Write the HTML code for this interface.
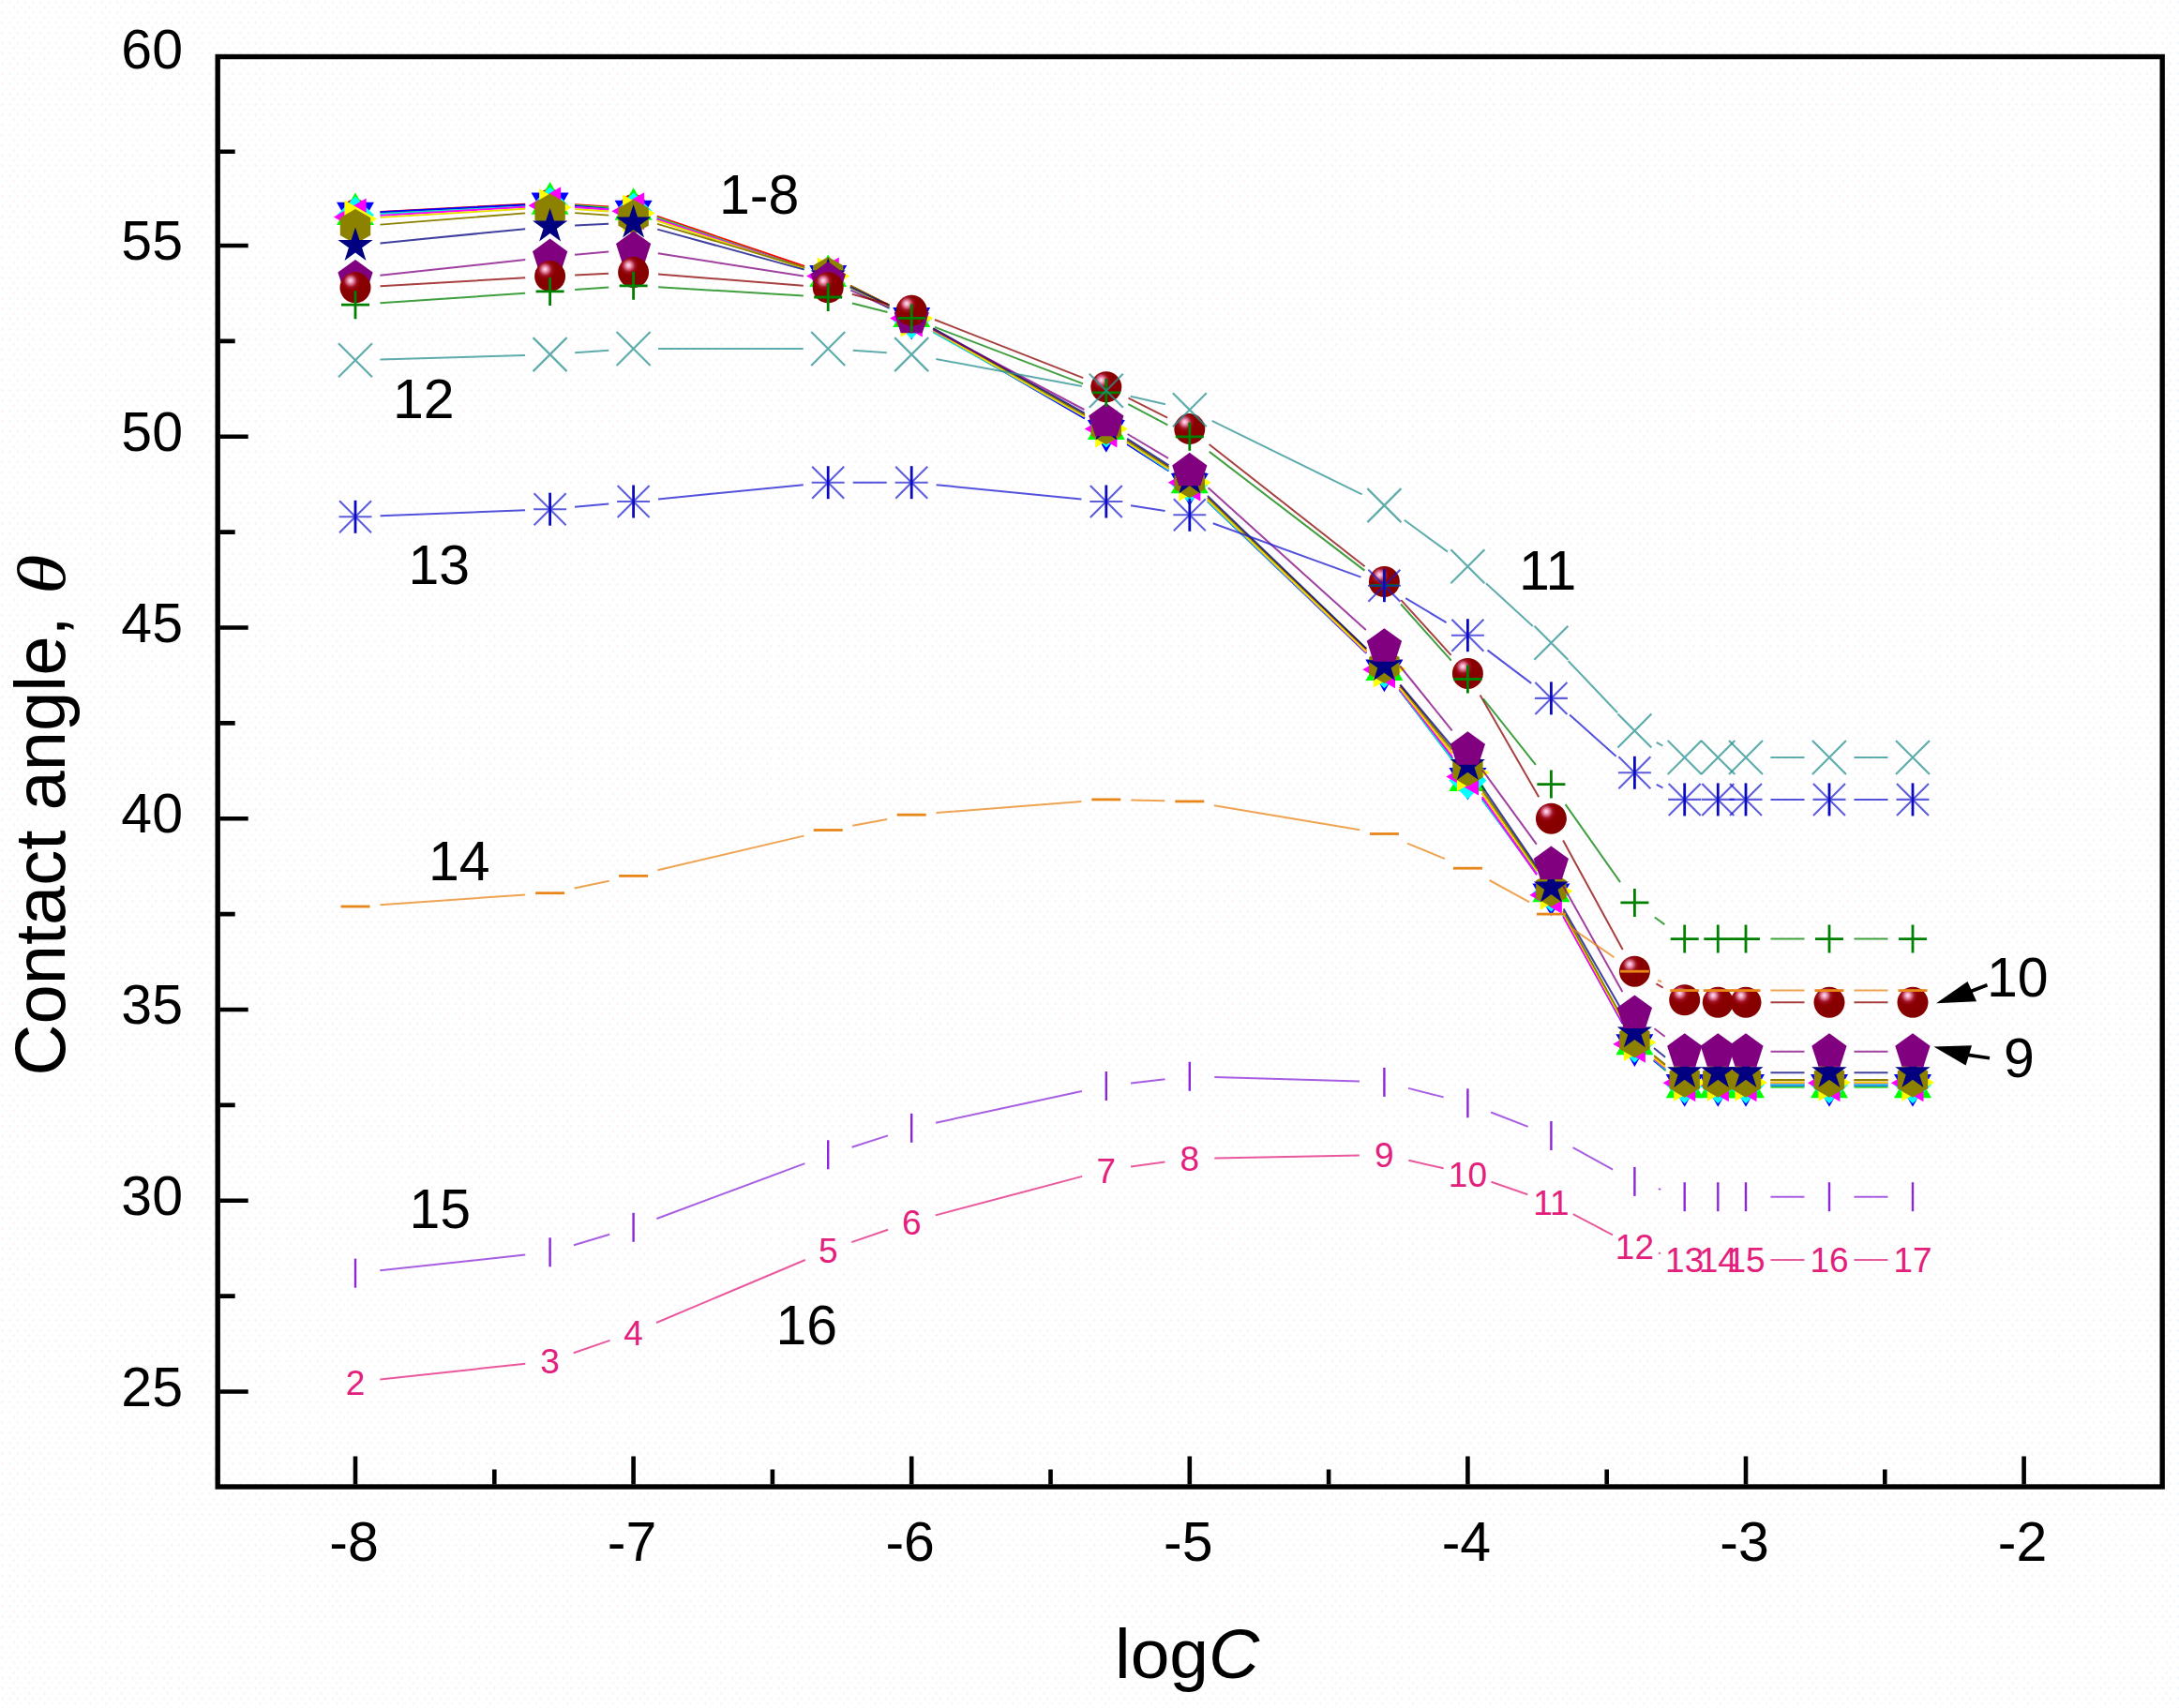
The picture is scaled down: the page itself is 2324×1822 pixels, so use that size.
<!DOCTYPE html>
<html><head><meta charset="utf-8"><title>Contact angle vs logC</title>
<style>
html,body{margin:0;padding:0;background:#fff;}
body{width:2324px;height:1822px;overflow:hidden;}
svg{display:block;font-family:"Liberation Sans",sans-serif;}
</style></head><body>
<svg width="2324" height="1822" viewBox="0 0 2324 1822">
<defs>
<radialGradient id="ball" cx="0.36" cy="0.30" r="0.62" fx="0.34" fy="0.27">
<stop offset="0" stop-color="#ffe6f4"/><stop offset="0.12" stop-color="#f0a0c0"/><stop offset="0.34" stop-color="#a01020"/><stop offset="0.5" stop-color="#8b0000"/><stop offset="1" stop-color="#850000"/>
</radialGradient>
<pattern id="dots" width="16.4" height="10.9" patternUnits="userSpaceOnUse">
<rect x="1" y="1" width="2.7" height="2.7" fill="#fcf4f8"/><rect x="9.2" y="1" width="2.7" height="2.7" fill="#f3f7fc"/>
<rect x="5.1" y="6.4" width="2.7" height="2.7" fill="#f9fdf6"/><rect x="13.3" y="6.4" width="2.7" height="2.7" fill="#fbf4f8"/>
</pattern>
</defs>
<rect width="2324" height="1822" fill="#ffffff"/>
<rect width="2324" height="1822" fill="url(#dots)"/>
<g id="series">
<g id="s1"><path d="M405.5 226.0L560.2 217.8M613.1 218.1L649.2 220.4M700.7 230.6L858.1 284.0M906.9 304.5L948.5 325.5M995.2 350.5L1156.8 442.5M1202.1 469.9L1246.5 498.3M1287.9 531.0L1457.3 693.9M1492.9 733.0L1548.9 803.6M1580.7 846.0L1639.1 929.0M1667.2 973.9L1730.5 1088.4M1764.4 1127.7L1775.7 1136.3M1888.5 1152.4L1924.5 1152.4M1977.5 1152.4L2013.5 1152.4" stroke="#ff0000" stroke-width="1.9" fill="none" opacity="1"/>
<circle cx="379.0" cy="227.4" r="15" fill="#ff0000"/>
<circle cx="586.6" cy="216.4" r="15" fill="#ff0000"/>
<circle cx="675.6" cy="222.1" r="15" fill="#ff0000"/>
<circle cx="883.2" cy="292.6" r="15" fill="#ff0000"/>
<circle cx="972.2" cy="337.4" r="15" fill="#ff0000"/>
<circle cx="1179.8" cy="455.6" r="15" fill="#ff0000"/>
<circle cx="1268.8" cy="512.6" r="15" fill="#ff0000"/>
<circle cx="1476.4" cy="712.3" r="15" fill="#ff0000"/>
<circle cx="1565.4" cy="824.3" r="15" fill="#ff0000"/>
<circle cx="1654.4" cy="950.7" r="15" fill="#ff0000"/>
<circle cx="1743.4" cy="1111.6" r="15" fill="#ff0000"/>
<circle cx="1796.7" cy="1152.4" r="15" fill="#ff0000"/>
<circle cx="1832.3" cy="1152.4" r="15" fill="#ff0000"/>
<circle cx="1862.0" cy="1152.4" r="15" fill="#ff0000"/>
<circle cx="1951.0" cy="1152.4" r="15" fill="#ff0000"/>
<circle cx="2040.0" cy="1152.4" r="15" fill="#ff0000"/>
</g>
<g id="s2"><path d="M405.5 227.1L560.2 218.6M613.1 219.0L649.2 221.5M700.7 231.9L858.2 286.0M907.1 306.1L948.3 325.9M995.1 350.7L1156.9 444.3M1202.1 471.9L1246.5 500.3M1287.9 533.0L1457.3 696.0M1492.4 735.5L1549.5 811.3M1581.3 853.7L1638.4 929.5M1667.1 973.9L1730.7 1090.4M1763.4 1131.0L1776.7 1142.4M1888.5 1159.7L1924.5 1159.7M1977.5 1159.7L2013.5 1159.7" stroke="#30d830" stroke-width="1.9" fill="none" opacity="1"/>
<polygon points="379.0,205.5 359.0,240.1 399.0,240.1" fill="#00ff00"/>
<polygon points="586.6,194.1 566.6,228.7 606.6,228.7" fill="#00ff00"/>
<polygon points="675.6,200.2 655.6,234.8 695.6,234.8" fill="#00ff00"/>
<polygon points="883.2,271.5 863.2,306.1 903.2,306.1" fill="#00ff00"/>
<polygon points="972.2,314.3 952.2,348.9 992.2,348.9" fill="#00ff00"/>
<polygon points="1179.8,434.5 1159.8,469.1 1199.8,469.1" fill="#00ff00"/>
<polygon points="1268.8,491.6 1248.8,526.2 1288.8,526.2" fill="#00ff00"/>
<polygon points="1476.4,691.2 1456.4,725.9 1496.4,725.9" fill="#00ff00"/>
<polygon points="1565.4,809.4 1545.4,844.0 1585.4,844.0" fill="#00ff00"/>
<polygon points="1654.4,927.6 1634.4,962.2 1674.4,962.2" fill="#00ff00"/>
<polygon points="1743.4,1090.6 1723.4,1125.2 1763.4,1125.2" fill="#00ff00"/>
<polygon points="1796.7,1136.6 1776.7,1171.3 1816.7,1171.3" fill="#00ff00"/>
<polygon points="1832.3,1136.6 1812.3,1171.3 1852.3,1171.3" fill="#00ff00"/>
<polygon points="1862.0,1136.6 1842.0,1171.3 1882.0,1171.3" fill="#00ff00"/>
<polygon points="1951.0,1136.6 1931.0,1171.3 1971.0,1171.3" fill="#00ff00"/>
<polygon points="2040.0,1136.6 2020.0,1171.3 2060.0,1171.3" fill="#00ff00"/>
</g>
<g id="s3"><path d="M405.5 226.1L560.2 218.5M613.0 219.6L649.2 222.9M700.7 233.7L858.1 286.2M906.9 306.5L948.5 327.5M995.1 352.7L1156.9 446.4M1202.1 473.9L1246.5 502.4M1288.0 535.0L1457.3 696.8M1492.6 736.1L1549.2 809.5M1580.9 852.0L1638.9 932.4M1667.2 977.1L1730.5 1091.7M1764.0 1131.5L1776.1 1141.1M1888.5 1157.7L1924.5 1157.7M1977.5 1157.7L2013.5 1157.7" stroke="#0000ff" stroke-width="1.9" fill="none" opacity="1"/>
<polygon points="379.0,250.5 359.0,215.8 399.0,215.8" fill="#0000ff"/>
<polygon points="586.6,240.3 566.6,205.6 606.6,205.6" fill="#0000ff"/>
<polygon points="675.6,248.4 655.6,213.8 695.6,213.8" fill="#0000ff"/>
<polygon points="883.2,317.7 863.2,283.0 903.2,283.0" fill="#0000ff"/>
<polygon points="972.2,362.5 952.2,327.9 992.2,327.9" fill="#0000ff"/>
<polygon points="1179.8,482.7 1159.8,448.1 1199.8,448.1" fill="#0000ff"/>
<polygon points="1268.8,539.8 1248.8,505.1 1288.8,505.1" fill="#0000ff"/>
<polygon points="1476.4,738.2 1456.4,703.6 1496.4,703.6" fill="#0000ff"/>
<polygon points="1565.4,853.6 1545.4,818.9 1585.4,818.9" fill="#0000ff"/>
<polygon points="1654.4,977.0 1634.4,942.4 1674.4,942.4" fill="#0000ff"/>
<polygon points="1743.4,1138.0 1723.4,1103.3 1763.4,1103.3" fill="#0000ff"/>
<polygon points="1796.7,1180.8 1776.7,1146.1 1816.7,1146.1" fill="#0000ff"/>
<polygon points="1832.3,1180.8 1812.3,1146.1 1852.3,1146.1" fill="#0000ff"/>
<polygon points="1862.0,1180.8 1842.0,1146.1 1882.0,1146.1" fill="#0000ff"/>
<polygon points="1951.0,1180.8 1931.0,1146.1 1971.0,1146.1" fill="#0000ff"/>
<polygon points="2040.0,1180.8 2020.0,1146.1 2060.0,1146.1" fill="#0000ff"/>
</g>
<g id="s4"><path d="M405.5 228.1L560.2 220.5M613.1 221.0L649.2 223.5M700.7 233.7L858.1 286.2M906.7 306.9L948.8 329.1M995.3 354.4L1156.7 444.7M1201.9 472.3L1246.7 502.0M1288.0 535.0L1457.2 696.1M1492.4 735.5L1549.5 811.3M1581.2 853.8L1638.6 931.4M1667.2 975.9L1730.5 1090.5M1763.9 1130.4L1776.2 1140.5M1888.5 1157.3L1924.5 1157.3M1977.5 1157.3L2013.5 1157.3" stroke="#10d8d8" stroke-width="1.9" fill="none" opacity="1"/>
<polygon points="379.0,209.4 399.0,229.4 379.0,249.4 359.0,229.4" fill="#00ffff"/>
<polygon points="586.6,199.2 606.6,219.2 586.6,239.2 566.6,219.2" fill="#00ffff"/>
<polygon points="675.6,205.3 695.6,225.3 675.6,245.3 655.6,225.3" fill="#00ffff"/>
<polygon points="883.2,274.6 903.2,294.6 883.2,314.6 863.2,294.6" fill="#00ffff"/>
<polygon points="972.2,321.5 992.2,341.5 972.2,361.5 952.2,341.5" fill="#00ffff"/>
<polygon points="1179.8,437.6 1199.8,457.6 1179.8,477.6 1159.8,457.6" fill="#00ffff"/>
<polygon points="1268.8,496.7 1288.8,516.7 1268.8,536.7 1248.8,516.7" fill="#00ffff"/>
<polygon points="1476.4,694.3 1496.4,714.3 1476.4,734.3 1456.4,714.3" fill="#00ffff"/>
<polygon points="1565.4,812.5 1585.4,832.5 1565.4,852.5 1545.4,832.5" fill="#00ffff"/>
<polygon points="1654.4,932.7 1674.4,952.7 1654.4,972.7 1634.4,952.7" fill="#00ffff"/>
<polygon points="1743.4,1093.7 1763.4,1113.7 1743.4,1133.7 1723.4,1113.7" fill="#00ffff"/>
<polygon points="1796.7,1137.3 1816.7,1157.3 1796.7,1177.3 1776.7,1157.3" fill="#00ffff"/>
<polygon points="1832.3,1137.3 1852.3,1157.3 1832.3,1177.3 1812.3,1157.3" fill="#00ffff"/>
<polygon points="1862.0,1137.3 1882.0,1157.3 1862.0,1177.3 1842.0,1157.3" fill="#00ffff"/>
<polygon points="1951.0,1137.3 1971.0,1157.3 1951.0,1177.3 1931.0,1157.3" fill="#00ffff"/>
<polygon points="2040.0,1137.3 2060.0,1157.3 2040.0,1177.3 2020.0,1157.3" fill="#00ffff"/>
</g>
<g id="s5"><path d="M405.5 229.9L560.2 220.8M613.1 221.0L649.2 223.5M700.7 233.7L858.1 286.2M906.9 306.5L948.5 327.5M995.2 352.5L1156.8 444.5M1202.1 471.9L1246.5 500.3M1287.9 533.0L1457.3 696.0M1492.7 735.2L1549.1 807.5M1580.7 850.1L1639.1 933.1M1667.3 977.9L1730.4 1090.6M1764.3 1130.0L1775.8 1139.0M1888.5 1155.2L1924.5 1155.2M1977.5 1155.2L2013.5 1155.2" stroke="#ff00ff" stroke-width="1.9" fill="none" opacity="1"/>
<polygon points="355.9,231.4 390.6,211.4 390.6,251.4" fill="#ff00ff"/>
<polygon points="563.5,219.2 598.2,199.2 598.2,239.2" fill="#ff00ff"/>
<polygon points="652.5,225.3 687.1,205.3 687.1,245.3" fill="#ff00ff"/>
<polygon points="860.1,294.6 894.8,274.6 894.8,314.6" fill="#ff00ff"/>
<polygon points="949.1,339.4 983.8,319.4 983.8,359.4" fill="#ff00ff"/>
<polygon points="1156.7,457.6 1191.4,437.6 1191.4,477.6" fill="#ff00ff"/>
<polygon points="1245.7,514.7 1280.4,494.7 1280.4,534.7" fill="#ff00ff"/>
<polygon points="1453.3,714.3 1488.0,694.3 1488.0,734.3" fill="#ff00ff"/>
<polygon points="1542.3,828.4 1577.0,808.4 1577.0,848.4" fill="#ff00ff"/>
<polygon points="1631.3,954.8 1665.9,934.8 1665.9,974.8" fill="#ff00ff"/>
<polygon points="1720.3,1113.7 1754.9,1093.7 1754.9,1133.7" fill="#ff00ff"/>
<polygon points="1773.6,1155.2 1808.3,1135.2 1808.3,1175.2" fill="#ff00ff"/>
<polygon points="1809.2,1155.2 1843.9,1135.2 1843.9,1175.2" fill="#ff00ff"/>
<polygon points="1838.9,1155.2 1873.5,1135.2 1873.5,1175.2" fill="#ff00ff"/>
<polygon points="1927.9,1155.2 1962.5,1135.2 1962.5,1175.2" fill="#ff00ff"/>
<polygon points="2016.9,1155.2 2051.5,1135.2 2051.5,1175.2" fill="#ff00ff"/>
</g>
<g id="s6"><path d="M405.5 231.9L560.2 222.8M613.1 223.1L649.2 225.5M700.8 235.5L858.0 286.4M906.9 306.5L948.5 327.5M995.2 352.5L1156.8 444.5M1202.1 471.9L1246.5 500.3M1287.9 533.0L1457.3 695.2M1493.0 734.2L1548.8 803.7M1580.7 846.0L1639.1 929.0M1667.2 973.9L1730.6 1088.8M1764.0 1128.6L1776.1 1138.3M1888.5 1154.8L1924.5 1154.8M1977.5 1154.8L2013.5 1154.8" stroke="#e8e000" stroke-width="1.9" fill="none" opacity="1"/>
<polygon points="402.1,233.5 367.4,213.5 367.4,253.5" fill="#ffff00"/>
<polygon points="609.7,221.2 575.1,201.2 575.1,241.2" fill="#ffff00"/>
<polygon points="698.7,227.4 664.1,207.4 664.1,247.4" fill="#ffff00"/>
<polygon points="906.3,294.6 871.7,274.6 871.7,314.6" fill="#ffff00"/>
<polygon points="995.3,339.4 960.7,319.4 960.7,359.4" fill="#ffff00"/>
<polygon points="1202.9,457.6 1168.3,437.6 1168.3,477.6" fill="#ffff00"/>
<polygon points="1291.9,514.7 1257.3,494.7 1257.3,534.7" fill="#ffff00"/>
<polygon points="1499.5,713.5 1464.9,693.5 1464.9,733.5" fill="#ffff00"/>
<polygon points="1588.5,824.3 1553.9,804.3 1553.9,844.3" fill="#ffff00"/>
<polygon points="1677.5,950.7 1642.8,930.7 1642.8,970.7" fill="#ffff00"/>
<polygon points="1766.5,1112.0 1731.8,1092.0 1731.8,1132.0" fill="#ffff00"/>
<polygon points="1819.8,1154.8 1785.2,1134.8 1785.2,1174.8" fill="#ffff00"/>
<polygon points="1855.4,1154.8 1820.8,1134.8 1820.8,1174.8" fill="#ffff00"/>
<polygon points="1885.1,1154.8 1850.5,1134.8 1850.5,1174.8" fill="#ffff00"/>
<polygon points="1974.1,1154.8 1939.4,1134.8 1939.4,1174.8" fill="#ffff00"/>
<polygon points="2063.1,1154.8 2028.4,1134.8 2028.4,1174.8" fill="#ffff00"/>
</g>
<g id="s7"><path d="M405.4 239.6L560.2 227.4M613.1 227.1L649.2 229.6M701.0 238.9L857.8 285.1M906.9 304.5L948.5 325.5M995.2 350.5L1156.8 442.5M1202.1 469.9L1246.5 498.3M1288.0 530.9L1457.2 692.0M1493.1 730.9L1548.7 799.7M1580.5 842.1L1639.3 926.9M1667.2 971.8L1730.5 1086.4M1764.1 1126.1L1776.0 1135.5M1888.5 1152.0L1924.5 1152.0M1977.5 1152.0L2013.5 1152.0" stroke="#8c8200" stroke-width="1.9" fill="none" opacity="1"/>
<polygon points="379.0,222.9 395.2,232.3 395.2,251.0 379.0,260.3 362.8,251.0 362.8,232.3" fill="#8c8200"/>
<polygon points="586.6,206.6 602.8,216.0 602.8,234.7 586.6,244.0 570.4,234.7 570.4,216.0" fill="#8c8200"/>
<polygon points="675.6,212.7 691.8,222.1 691.8,240.8 675.6,250.1 659.4,240.8 659.4,222.1" fill="#8c8200"/>
<polygon points="883.2,273.9 899.4,283.2 899.4,301.9 883.2,311.3 867.0,301.9 867.0,283.2" fill="#8c8200"/>
<polygon points="972.2,318.7 988.4,328.0 988.4,346.7 972.2,356.1 956.0,346.7 956.0,328.0" fill="#8c8200"/>
<polygon points="1179.8,436.9 1196.0,446.2 1196.0,464.9 1179.8,474.3 1163.6,464.9 1163.6,446.2" fill="#8c8200"/>
<polygon points="1268.8,493.9 1285.0,503.3 1285.0,522.0 1268.8,531.3 1252.6,522.0 1252.6,503.3" fill="#8c8200"/>
<polygon points="1476.4,691.5 1492.6,700.9 1492.6,719.6 1476.4,729.0 1460.2,719.6 1460.2,700.9" fill="#8c8200"/>
<polygon points="1565.4,801.6 1581.6,810.9 1581.6,829.6 1565.4,839.0 1549.2,829.6 1549.2,810.9" fill="#8c8200"/>
<polygon points="1654.4,929.9 1670.6,939.3 1670.6,958.0 1654.4,967.3 1638.2,958.0 1638.2,939.3" fill="#8c8200"/>
<polygon points="1743.4,1090.9 1759.6,1100.2 1759.6,1118.9 1743.4,1128.3 1727.2,1118.9 1727.2,1100.2" fill="#8c8200"/>
<polygon points="1796.7,1133.3 1812.9,1142.6 1812.9,1161.3 1796.7,1170.7 1780.6,1161.3 1780.6,1142.6" fill="#8c8200"/>
<polygon points="1832.3,1133.3 1848.5,1142.6 1848.5,1161.3 1832.3,1170.7 1816.1,1161.3 1816.1,1142.6" fill="#8c8200"/>
<polygon points="1862.0,1133.3 1878.2,1142.6 1878.2,1161.3 1862.0,1170.7 1845.8,1161.3 1845.8,1142.6" fill="#8c8200"/>
<polygon points="1951.0,1133.3 1967.2,1142.6 1967.2,1161.3 1951.0,1170.7 1934.8,1161.3 1934.8,1142.6" fill="#8c8200"/>
<polygon points="2040.0,1133.3 2056.2,1142.6 2056.2,1161.3 2040.0,1170.7 2023.8,1161.3 2023.8,1142.6" fill="#8c8200"/>
</g>
<g id="s8"><path d="M405.4 259.4L560.2 244.2M613.1 240.4L649.1 238.8M701.2 244.6L857.7 287.6M907.1 306.1L948.3 325.9M995.3 350.3L1156.7 440.6M1202.1 467.8L1246.5 496.3M1287.9 528.9L1457.3 691.9M1493.5 730.5L1548.4 795.9M1580.3 838.1L1639.4 924.7M1667.6 969.6L1730.2 1078.5M1764.0 1118.0L1776.1 1127.7M1888.5 1144.2L1924.5 1144.2M1977.5 1144.2L2013.5 1144.2" stroke="#000080" stroke-width="2.0" fill="none" opacity="0.75"/>
<polygon points="379.0,242.4 383.4,255.9 397.6,255.9 386.1,264.3 390.5,277.9 379.0,269.5 367.5,277.9 371.9,264.3 360.4,255.9 374.6,255.9" fill="#000080"/>
<polygon points="586.6,222.0 591.0,235.6 605.3,235.6 593.8,243.9 598.1,257.5 586.6,249.1 575.1,257.5 579.5,243.9 568.0,235.6 582.2,235.6" fill="#000080"/>
<polygon points="675.6,217.9 680.0,231.5 694.2,231.5 682.7,239.9 687.1,253.4 675.6,245.0 664.1,253.4 668.5,239.9 657.0,231.5 671.2,231.5" fill="#000080"/>
<polygon points="883.2,275.0 887.6,288.5 901.9,288.5 890.4,296.9 894.7,310.5 883.2,302.1 871.7,310.5 876.1,296.9 864.6,288.5 878.8,288.5" fill="#000080"/>
<polygon points="972.2,317.8 976.6,331.3 990.8,331.3 979.3,339.7 983.7,353.2 972.2,344.9 960.7,353.2 965.1,339.7 953.6,331.3 967.8,331.3" fill="#000080"/>
<polygon points="1179.8,433.9 1184.2,447.5 1198.5,447.5 1187.0,455.8 1191.3,469.4 1179.8,461.0 1168.3,469.4 1172.7,455.8 1161.2,447.5 1175.4,447.5" fill="#000080"/>
<polygon points="1268.8,491.0 1273.2,504.5 1287.4,504.5 1275.9,512.9 1280.3,526.4 1268.8,518.1 1257.3,526.4 1261.7,512.9 1250.2,504.5 1264.4,504.5" fill="#000080"/>
<polygon points="1476.4,690.6 1480.8,704.2 1495.1,704.2 1483.6,712.6 1487.9,726.1 1476.4,717.8 1464.9,726.1 1469.3,712.6 1457.8,704.2 1472.0,704.2" fill="#000080"/>
<polygon points="1565.4,796.6 1569.8,810.1 1584.0,810.1 1572.5,818.5 1576.9,832.1 1565.4,823.7 1553.9,832.1 1558.3,818.5 1546.8,810.1 1561.0,810.1" fill="#000080"/>
<polygon points="1654.4,927.0 1658.8,940.5 1673.0,940.5 1661.5,948.9 1665.9,962.5 1654.4,954.1 1642.9,962.5 1647.2,948.9 1635.7,940.5 1650.0,940.5" fill="#000080"/>
<polygon points="1743.4,1081.9 1747.8,1095.4 1762.0,1095.4 1750.5,1103.8 1754.9,1117.3 1743.4,1109.0 1731.8,1117.3 1736.2,1103.8 1724.7,1095.4 1739.0,1095.4" fill="#000080"/>
<polygon points="1796.7,1124.6 1801.2,1138.2 1815.4,1138.2 1803.9,1146.6 1808.3,1160.1 1796.7,1151.7 1785.2,1160.1 1789.6,1146.6 1778.1,1138.2 1792.3,1138.2" fill="#000080"/>
<polygon points="1832.3,1124.6 1836.7,1138.2 1851.0,1138.2 1839.5,1146.6 1843.9,1160.1 1832.3,1151.7 1820.8,1160.1 1825.2,1146.6 1813.7,1138.2 1827.9,1138.2" fill="#000080"/>
<polygon points="1862.0,1124.6 1866.4,1138.2 1880.6,1138.2 1869.1,1146.6 1873.5,1160.1 1862.0,1151.7 1850.5,1160.1 1854.9,1146.6 1843.4,1138.2 1857.6,1138.2" fill="#000080"/>
<polygon points="1951.0,1124.6 1955.4,1138.2 1969.6,1138.2 1958.1,1146.6 1962.5,1160.1 1951.0,1151.7 1939.5,1160.1 1943.8,1146.6 1932.3,1138.2 1946.6,1138.2" fill="#000080"/>
<polygon points="2040.0,1124.6 2044.4,1138.2 2058.6,1138.2 2047.1,1146.6 2051.5,1160.1 2040.0,1151.7 2028.4,1160.1 2032.8,1146.6 2021.3,1138.2 2035.6,1138.2" fill="#000080"/>
</g>
<g id="s9"><path d="M405.3 293.8L560.3 277.1M613.0 271.8L649.2 268.5M701.8 270.2L857.0 294.6M907.3 309.7L948.1 328.4M995.6 351.8L1156.4 437.0M1202.6 463.0L1246.0 488.9M1288.5 520.2L1456.8 672.1M1493.1 710.5L1548.7 779.3M1581.0 821.3L1638.8 900.7M1667.3 945.3L1730.4 1058.0M1764.4 1097.2L1775.7 1105.7M1888.5 1121.8L1924.5 1121.8M1977.5 1121.8L2013.5 1121.8" stroke="#800080" stroke-width="2.0" fill="none" opacity="0.75"/>
<polygon points="379.0,277.0 397.6,290.6 390.5,312.5 367.5,312.5 360.4,290.6" fill="#800080"/>
<polygon points="586.6,254.6 605.3,268.2 598.1,290.1 575.1,290.1 568.0,268.2" fill="#800080"/>
<polygon points="675.6,246.5 694.2,260.0 687.1,281.9 664.1,281.9 657.0,260.0" fill="#800080"/>
<polygon points="883.2,279.1 901.9,292.6 894.7,314.5 871.7,314.5 864.6,292.6" fill="#800080"/>
<polygon points="972.2,319.8 990.8,333.4 983.7,355.3 960.7,355.3 953.6,333.4" fill="#800080"/>
<polygon points="1179.8,429.9 1198.5,443.4 1191.3,465.3 1168.3,465.3 1161.2,443.4" fill="#800080"/>
<polygon points="1268.8,482.8 1287.4,496.4 1280.3,518.3 1257.3,518.3 1250.2,496.4" fill="#800080"/>
<polygon points="1476.4,670.3 1495.1,683.8 1487.9,705.7 1464.9,705.7 1457.8,683.8" fill="#800080"/>
<polygon points="1565.4,780.3 1584.0,793.8 1576.9,815.8 1553.9,815.8 1546.8,793.8" fill="#800080"/>
<polygon points="1654.4,902.6 1673.0,916.1 1665.9,938.0 1642.9,938.0 1635.7,916.1" fill="#800080"/>
<polygon points="1743.4,1061.5 1762.0,1075.0 1754.9,1096.9 1731.8,1096.9 1724.7,1075.0" fill="#800080"/>
<polygon points="1796.7,1102.2 1815.4,1115.8 1808.3,1137.7 1785.2,1137.7 1778.1,1115.8" fill="#800080"/>
<polygon points="1832.3,1102.2 1851.0,1115.8 1843.9,1137.7 1820.8,1137.7 1813.7,1115.8" fill="#800080"/>
<polygon points="1862.0,1102.2 1880.6,1115.8 1873.5,1137.7 1850.5,1137.7 1843.4,1115.8" fill="#800080"/>
<polygon points="1951.0,1102.2 1969.6,1115.8 1962.5,1137.7 1939.5,1137.7 1932.3,1115.8" fill="#800080"/>
<polygon points="2040.0,1102.2 2058.6,1115.8 2051.5,1137.7 2028.4,1137.7 2021.3,1115.8" fill="#800080"/>
</g>
<g id="s10"><path d="M405.5 305.3L560.2 296.2M613.1 293.4L649.1 291.7M702.0 292.6L856.8 304.8M908.8 313.8L946.6 324.3M996.9 341.0L1155.2 403.1M1203.5 424.7L1245.1 445.7M1289.6 474.0L1455.6 604.2M1494.3 640.2L1547.6 698.8M1578.6 741.4L1641.2 850.3M1667.1 896.5L1730.7 1013.0M1766.4 1049.4L1773.7 1053.6M1888.5 1069.3L1924.5 1069.3M1977.5 1069.3L2013.5 1069.3" stroke="#8b0000" stroke-width="2.0" fill="none" opacity="0.75"/>
<circle cx="379.0" cy="306.8" r="16.5" fill="url(#ball)"/>
<circle cx="586.6" cy="294.6" r="16.5" fill="url(#ball)"/>
<circle cx="675.6" cy="290.5" r="16.5" fill="url(#ball)"/>
<circle cx="883.2" cy="306.8" r="16.5" fill="url(#ball)"/>
<circle cx="972.2" cy="331.3" r="16.5" fill="url(#ball)"/>
<circle cx="1179.8" cy="412.8" r="16.5" fill="url(#ball)"/>
<circle cx="1268.8" cy="457.6" r="16.5" fill="url(#ball)"/>
<circle cx="1476.4" cy="620.6" r="16.5" fill="url(#ball)"/>
<circle cx="1565.4" cy="718.4" r="16.5" fill="url(#ball)"/>
<circle cx="1654.4" cy="873.2" r="16.5" fill="url(#ball)"/>
<circle cx="1743.4" cy="1036.2" r="16.5" fill="url(#ball)"/>
<circle cx="1796.7" cy="1066.8" r="16.5" fill="url(#ball)"/>
<circle cx="1832.3" cy="1069.3" r="16.5" fill="url(#ball)"/>
<circle cx="1862.0" cy="1069.3" r="16.5" fill="url(#ball)"/>
<circle cx="1951.0" cy="1069.3" r="16.5" fill="url(#ball)"/>
<circle cx="2040.0" cy="1069.3" r="16.5" fill="url(#ball)"/>
</g>
<g id="s11"><path d="M405.4 323.3L560.2 312.7M613.1 309.1L649.2 306.6M702.1 306.3L856.8 315.5M908.9 323.5L946.5 333.0M996.9 348.9L1155.1 409.4M1203.3 431.2L1245.4 453.4M1289.8 481.9L1455.4 608.6M1494.1 644.5L1547.8 704.7M1581.9 745.3L1637.9 815.8M1669.6 858.2L1728.1 941.2M1764.8 978.5L1775.3 986.1M1888.5 1001.6L1924.5 1001.6M1977.5 1001.6L2013.5 1001.6" stroke="#008000" stroke-width="2.0" fill="none" opacity="0.75"/>
<path d="M364.0 325.2h30M379.0 310.2v30" stroke="#008000" stroke-width="2.8" fill="none"/>
<path d="M571.6 310.9h30M586.6 295.9v30" stroke="#008000" stroke-width="2.8" fill="none"/>
<path d="M660.6 304.8h30M675.6 289.8v30" stroke="#008000" stroke-width="2.8" fill="none"/>
<path d="M868.2 317.0h30M883.2 302.0v30" stroke="#008000" stroke-width="2.8" fill="none"/>
<path d="M957.2 339.4h30M972.2 324.4v30" stroke="#008000" stroke-width="2.8" fill="none"/>
<path d="M1164.8 418.9h30M1179.8 403.9v30" stroke="#008000" stroke-width="2.8" fill="none"/>
<path d="M1253.8 465.8h30M1268.8 450.8v30" stroke="#008000" stroke-width="2.8" fill="none"/>
<path d="M1461.4 624.7h30M1476.4 609.7v30" stroke="#008000" stroke-width="2.8" fill="none"/>
<path d="M1550.4 724.5h30M1565.4 709.5v30" stroke="#008000" stroke-width="2.8" fill="none"/>
<path d="M1639.4 836.6h30M1654.4 821.6v30" stroke="#008000" stroke-width="2.8" fill="none"/>
<path d="M1728.4 962.9h30M1743.4 947.9v30" stroke="#008000" stroke-width="2.8" fill="none"/>
<path d="M1781.7 1001.6h30M1796.7 986.6v30" stroke="#008000" stroke-width="2.8" fill="none"/>
<path d="M1817.3 1001.6h30M1832.3 986.6v30" stroke="#008000" stroke-width="2.8" fill="none"/>
<path d="M1847.0 1001.6h30M1862.0 986.6v30" stroke="#008000" stroke-width="2.8" fill="none"/>
<path d="M1936.0 1001.6h30M1951.0 986.6v30" stroke="#008000" stroke-width="2.8" fill="none"/>
<path d="M2025.0 1001.6h30M2040.0 986.6v30" stroke="#008000" stroke-width="2.8" fill="none"/>
</g>
<g id="s12"><path d="M405.5 383.5L560.1 378.9M613.1 376.3L649.2 373.8M702.1 372.0L856.7 372.0M909.7 373.8L945.8 376.3M998.3 383.0L1153.8 412.0M1205.7 422.8L1243.0 431.3M1292.6 448.9L1452.6 527.4M1497.8 554.8L1544.0 588.6M1584.9 622.2L1634.8 667.9M1672.6 705.0L1725.1 760.3M1766.7 792.0L1773.4 795.6M1888.5 808.0L1924.5 808.0M1977.5 808.0L2013.5 808.0" stroke="#2a9090" stroke-width="2.0" fill="none" opacity="0.75"/>
<path d="M361.0 366.2l36 36M397.0 366.2l-36 36" stroke="#2a9090" stroke-width="2.2" fill="none" opacity="0.75"/>
<path d="M568.6 360.1l36 36M604.6 360.1l-36 36" stroke="#2a9090" stroke-width="2.2" fill="none" opacity="0.75"/>
<path d="M657.6 354.0l36 36M693.6 354.0l-36 36" stroke="#2a9090" stroke-width="2.2" fill="none" opacity="0.75"/>
<path d="M865.2 354.0l36 36M901.2 354.0l-36 36" stroke="#2a9090" stroke-width="2.2" fill="none" opacity="0.75"/>
<path d="M954.2 360.1l36 36M990.2 360.1l-36 36" stroke="#2a9090" stroke-width="2.2" fill="none" opacity="0.75"/>
<path d="M1161.8 398.8l36 36M1197.8 398.8l-36 36" stroke="#2a9090" stroke-width="2.2" fill="none" opacity="0.75"/>
<path d="M1250.8 419.2l36 36M1286.8 419.2l-36 36" stroke="#2a9090" stroke-width="2.2" fill="none" opacity="0.75"/>
<path d="M1458.4 521.1l36 36M1494.4 521.1l-36 36" stroke="#2a9090" stroke-width="2.2" fill="none" opacity="0.75"/>
<path d="M1547.4 586.3l36 36M1583.4 586.3l-36 36" stroke="#2a9090" stroke-width="2.2" fill="none" opacity="0.75"/>
<path d="M1636.4 667.8l36 36M1672.4 667.8l-36 36" stroke="#2a9090" stroke-width="2.2" fill="none" opacity="0.75"/>
<path d="M1725.4 761.5l36 36M1761.4 761.5l-36 36" stroke="#2a9090" stroke-width="2.2" fill="none" opacity="0.75"/>
<path d="M1778.7 790.0l36 36M1814.7 790.0l-36 36" stroke="#2a9090" stroke-width="2.2" fill="none" opacity="0.75"/>
<path d="M1814.3 790.0l36 36M1850.3 790.0l-36 36" stroke="#2a9090" stroke-width="2.2" fill="none" opacity="0.75"/>
<path d="M1844.0 790.0l36 36M1880.0 790.0l-36 36" stroke="#2a9090" stroke-width="2.2" fill="none" opacity="0.75"/>
<path d="M1933.0 790.0l36 36M1969.0 790.0l-36 36" stroke="#2a9090" stroke-width="2.2" fill="none" opacity="0.75"/>
<path d="M2022.0 790.0l36 36M2058.0 790.0l-36 36" stroke="#2a9090" stroke-width="2.2" fill="none" opacity="0.75"/>
</g>
<g id="s13"><path d="M405.5 550.3L560.1 544.2M613.0 540.8L649.2 537.4M702.0 532.4L856.8 517.2M909.7 514.7L945.7 514.7M998.6 517.2L1153.4 532.4M1206.0 539.2L1242.6 545.1M1293.7 558.3L1451.5 615.6M1499.2 638.2L1542.6 664.1M1586.5 693.6L1633.2 728.9M1674.1 762.5L1723.6 806.7M1766.7 836.8L1773.4 840.4M1888.5 852.9L1924.5 852.9M1977.5 852.9L2013.5 852.9" stroke="#1818d0" stroke-width="2.0" fill="none" opacity="0.75"/>
<path d="M362.0 534.3l34 34M396.0 534.3l-34 34M361.5 551.3h35" stroke="#1818d0" stroke-width="2.1" fill="none" opacity="0.7"/><path d="M379.0 533.8v35" stroke="#0a0ac0" stroke-width="2.8" fill="none"/>
<path d="M569.6 526.2l34 34M603.6 526.2l-34 34M569.1 543.2h35" stroke="#1818d0" stroke-width="2.1" fill="none" opacity="0.7"/><path d="M586.6 525.7v35" stroke="#0a0ac0" stroke-width="2.8" fill="none"/>
<path d="M658.6 518.0l34 34M692.6 518.0l-34 34M658.1 535.0h35" stroke="#1818d0" stroke-width="2.1" fill="none" opacity="0.7"/><path d="M675.6 517.5v35" stroke="#0a0ac0" stroke-width="2.8" fill="none"/>
<path d="M866.2 497.7l34 34M900.2 497.7l-34 34M865.7 514.7h35" stroke="#1818d0" stroke-width="2.1" fill="none" opacity="0.7"/><path d="M883.2 497.2v35" stroke="#0a0ac0" stroke-width="2.8" fill="none"/>
<path d="M955.2 497.7l34 34M989.2 497.7l-34 34M954.7 514.7h35" stroke="#1818d0" stroke-width="2.1" fill="none" opacity="0.7"/><path d="M972.2 497.2v35" stroke="#0a0ac0" stroke-width="2.8" fill="none"/>
<path d="M1162.8 518.0l34 34M1196.8 518.0l-34 34M1162.3 535.0h35" stroke="#1818d0" stroke-width="2.1" fill="none" opacity="0.7"/><path d="M1179.8 517.5v35" stroke="#0a0ac0" stroke-width="2.8" fill="none"/>
<path d="M1251.8 532.3l34 34M1285.8 532.3l-34 34M1251.3 549.3h35" stroke="#1818d0" stroke-width="2.1" fill="none" opacity="0.7"/><path d="M1268.8 531.8v35" stroke="#0a0ac0" stroke-width="2.8" fill="none"/>
<path d="M1459.4 607.7l34 34M1493.4 607.7l-34 34M1458.9 624.7h35" stroke="#1818d0" stroke-width="2.1" fill="none" opacity="0.7"/><path d="M1476.4 607.2v35" stroke="#0a0ac0" stroke-width="2.8" fill="none"/>
<path d="M1548.4 660.7l34 34M1582.4 660.7l-34 34M1547.9 677.7h35" stroke="#1818d0" stroke-width="2.1" fill="none" opacity="0.7"/><path d="M1565.4 660.2v35" stroke="#0a0ac0" stroke-width="2.8" fill="none"/>
<path d="M1637.4 727.9l34 34M1671.4 727.9l-34 34M1636.9 744.9h35" stroke="#1818d0" stroke-width="2.1" fill="none" opacity="0.7"/><path d="M1654.4 727.4v35" stroke="#0a0ac0" stroke-width="2.8" fill="none"/>
<path d="M1726.4 807.3l34 34M1760.4 807.3l-34 34M1725.9 824.3h35" stroke="#1818d0" stroke-width="2.1" fill="none" opacity="0.7"/><path d="M1743.4 806.8v35" stroke="#0a0ac0" stroke-width="2.8" fill="none"/>
<path d="M1779.7 835.9l34 34M1813.7 835.9l-34 34M1779.2 852.9h35" stroke="#1818d0" stroke-width="2.1" fill="none" opacity="0.7"/><path d="M1796.7 835.4v35" stroke="#0a0ac0" stroke-width="2.8" fill="none"/>
<path d="M1815.3 835.9l34 34M1849.3 835.9l-34 34M1814.8 852.9h35" stroke="#1818d0" stroke-width="2.1" fill="none" opacity="0.7"/><path d="M1832.3 835.4v35" stroke="#0a0ac0" stroke-width="2.8" fill="none"/>
<path d="M1845.0 835.9l34 34M1879.0 835.9l-34 34M1844.5 852.9h35" stroke="#1818d0" stroke-width="2.1" fill="none" opacity="0.7"/><path d="M1862.0 835.4v35" stroke="#0a0ac0" stroke-width="2.8" fill="none"/>
<path d="M1934.0 835.9l34 34M1968.0 835.9l-34 34M1933.5 852.9h35" stroke="#1818d0" stroke-width="2.1" fill="none" opacity="0.7"/><path d="M1951.0 835.4v35" stroke="#0a0ac0" stroke-width="2.8" fill="none"/>
<path d="M2023.0 835.9l34 34M2057.0 835.9l-34 34M2022.5 852.9h35" stroke="#1818d0" stroke-width="2.1" fill="none" opacity="0.7"/><path d="M2040.0 835.4v35" stroke="#0a0ac0" stroke-width="2.8" fill="none"/>
</g>
<g id="s14"><path d="M405.4 965.2L560.2 954.5M612.6 947.4L649.6 939.7M701.4 928.3L857.4 891.6M909.3 880.7L946.1 874.0M998.6 867.1L1153.4 854.9M1206.3 853.5L1242.3 854.3M1294.9 859.3L1450.3 885.2M1500.9 899.6L1540.9 916.1M1588.6 939.0L1631.2 962.4M1676.2 990.1L1721.5 1021.2M1768.1 1045.7L1772.0 1047.2M1888.5 1056.6L1924.5 1056.6M1977.5 1056.6L2013.5 1056.6" stroke="#e8861a" stroke-width="2.0" fill="none" opacity="0.75"/>
<path d="M363.5 967.0h31" stroke="#e8861a" stroke-width="2.8" fill="none"/>
<path d="M571.1 952.7h31" stroke="#e8861a" stroke-width="2.8" fill="none"/>
<path d="M660.1 934.4h31" stroke="#e8861a" stroke-width="2.8" fill="none"/>
<path d="M867.7 885.5h31" stroke="#e8861a" stroke-width="2.8" fill="none"/>
<path d="M956.7 869.2h31" stroke="#e8861a" stroke-width="2.8" fill="none"/>
<path d="M1164.3 852.9h31" stroke="#e8861a" stroke-width="2.8" fill="none"/>
<path d="M1253.3 854.9h31" stroke="#e8861a" stroke-width="2.8" fill="none"/>
<path d="M1460.9 889.5h31" stroke="#e8861a" stroke-width="2.8" fill="none"/>
<path d="M1549.9 926.2h31" stroke="#e8861a" stroke-width="2.8" fill="none"/>
<path d="M1638.9 975.1h31" stroke="#e8861a" stroke-width="2.8" fill="none"/>
<path d="M1727.9 1036.2h31" stroke="#e8861a" stroke-width="2.8" fill="none"/>
<path d="M1781.2 1056.6h31" stroke="#e8861a" stroke-width="2.8" fill="none"/>
<path d="M1816.8 1056.6h31" stroke="#e8861a" stroke-width="2.8" fill="none"/>
<path d="M1846.5 1056.6h31" stroke="#e8861a" stroke-width="2.8" fill="none"/>
<path d="M1935.5 1056.6h31" stroke="#e8861a" stroke-width="2.8" fill="none"/>
<path d="M2024.5 1056.6h31" stroke="#e8861a" stroke-width="2.8" fill="none"/>
</g>
<g id="s15"><path d="M405.3 1355.3L560.3 1338.6M612.0 1328.2L650.2 1316.8M700.4 1300.0L858.4 1241.1M908.5 1223.8L947.0 1211.4M998.1 1197.7L1153.9 1164.1M1206.1 1155.5L1242.5 1151.3M1295.3 1149.1L1449.9 1153.6M1502.1 1160.9L1539.7 1170.4M1590.1 1186.5L1629.7 1201.9M1677.6 1224.2L1720.1 1247.6M1768.7 1268.1L1771.4 1268.9M1888.5 1276.7L1924.5 1276.7M1977.5 1276.7L2013.5 1276.7" stroke="#8a28d8" stroke-width="2.0" fill="none" opacity="0.75"/>
<path d="M379.0 1342.7v31" stroke="#8a28d8" stroke-width="2.4" fill="none"/>
<path d="M586.6 1320.3v31" stroke="#8a28d8" stroke-width="2.4" fill="none"/>
<path d="M675.6 1293.8v31" stroke="#8a28d8" stroke-width="2.4" fill="none"/>
<path d="M883.2 1216.3v31" stroke="#8a28d8" stroke-width="2.4" fill="none"/>
<path d="M972.2 1187.8v31" stroke="#8a28d8" stroke-width="2.4" fill="none"/>
<path d="M1179.8 1143.0v31" stroke="#8a28d8" stroke-width="2.4" fill="none"/>
<path d="M1268.8 1132.8v31" stroke="#8a28d8" stroke-width="2.4" fill="none"/>
<path d="M1476.4 1138.9v31" stroke="#8a28d8" stroke-width="2.4" fill="none"/>
<path d="M1565.4 1161.3v31" stroke="#8a28d8" stroke-width="2.4" fill="none"/>
<path d="M1654.4 1196.0v31" stroke="#8a28d8" stroke-width="2.4" fill="none"/>
<path d="M1743.4 1244.9v31" stroke="#8a28d8" stroke-width="2.4" fill="none"/>
<path d="M1796.7 1261.2v31" stroke="#8a28d8" stroke-width="2.4" fill="none"/>
<path d="M1832.3 1261.2v31" stroke="#8a28d8" stroke-width="2.4" fill="none"/>
<path d="M1862.0 1261.2v31" stroke="#8a28d8" stroke-width="2.4" fill="none"/>
<path d="M1951.0 1261.2v31" stroke="#8a28d8" stroke-width="2.4" fill="none"/>
<path d="M2040.0 1261.2v31" stroke="#8a28d8" stroke-width="2.4" fill="none"/>
</g>
<g id="s16"><path d="M405.3 1471.5L560.3 1454.7M611.7 1443.3L650.5 1429.9M700.0 1411.0L858.8 1344.0M908.3 1325.1L947.1 1311.8M997.8 1296.4L1154.2 1254.9M1206.1 1244.5L1242.5 1239.5M1295.3 1235.4L1449.9 1232.4M1502.3 1237.8L1539.6 1246.3M1590.5 1260.8L1629.3 1274.2M1677.8 1295.1L1719.9 1317.3M1769.0 1336.5L1771.1 1337.1M1888.5 1343.9L1924.5 1343.9M1977.5 1343.9L2013.5 1343.9" stroke="#e3207c" stroke-width="2.0" fill="none" opacity="0.75"/>
<text x="379.0" y="1487.6" font-size="37" fill="#e3207c" text-anchor="middle">2</text>
<text x="586.6" y="1465.2" font-size="37" fill="#e3207c" text-anchor="middle">3</text>
<text x="675.6" y="1434.6" font-size="37" fill="#e3207c" text-anchor="middle">4</text>
<text x="883.2" y="1347.0" font-size="37" fill="#e3207c" text-anchor="middle">5</text>
<text x="972.2" y="1316.5" font-size="37" fill="#e3207c" text-anchor="middle">6</text>
<text x="1179.8" y="1261.5" font-size="37" fill="#e3207c" text-anchor="middle">7</text>
<text x="1268.8" y="1249.2" font-size="37" fill="#e3207c" text-anchor="middle">8</text>
<text x="1476.4" y="1245.1" font-size="37" fill="#e3207c" text-anchor="middle">9</text>
<text x="1565.4" y="1265.5" font-size="37" fill="#e3207c" text-anchor="middle">10</text>
<text x="1654.4" y="1296.1" font-size="37" fill="#e3207c" text-anchor="middle">11</text>
<text x="1743.4" y="1342.9" font-size="37" fill="#e3207c" text-anchor="middle">12</text>
<text x="1796.7" y="1357.2" font-size="37" fill="#e3207c" text-anchor="middle">13</text>
<text x="1832.3" y="1357.2" font-size="37" fill="#e3207c" text-anchor="middle">14</text>
<text x="1862.0" y="1357.2" font-size="37" fill="#e3207c" text-anchor="middle">15</text>
<text x="1951.0" y="1357.2" font-size="37" fill="#e3207c" text-anchor="middle">16</text>
<text x="2040.0" y="1357.2" font-size="37" fill="#e3207c" text-anchor="middle">17</text>
</g>
</g>
<g id="axes">
<rect x="232.2" y="60.5" width="2074.0" height="1525.5" fill="none" stroke="#000" stroke-width="5.4"/>
<path d="M234.7 1484.5h30M234.7 1280.8h30M234.7 1077.0h30M234.7 873.2h30M234.7 669.5h30M234.7 465.8h30M234.7 262.0h30M234.7 1382.6h16M234.7 1178.9h16M234.7 975.1h16M234.7 771.4h16M234.7 567.6h16M234.7 363.9h16M234.7 161.7h16M379.0 1583.5v-30M675.6 1583.5v-30M972.2 1583.5v-30M1268.8 1583.5v-30M1565.4 1583.5v-30M1862.0 1583.5v-30M2158.6 1583.5v-30M527.3 1583.5v-16M823.9 1583.5v-16M1120.5 1583.5v-16M1417.1 1583.5v-16M1713.7 1583.5v-16M2010.3 1583.5v-16" stroke="#000" stroke-width="4.6" fill="none"/>
</g>
<g id="labels" font-size="59" fill="#000">
<text x="195" y="1499.5" text-anchor="end">25</text>
<text x="195" y="1295.8" text-anchor="end">30</text>
<text x="195" y="1092.0" text-anchor="end">35</text>
<text x="195" y="888.2" text-anchor="end">40</text>
<text x="195" y="684.5" text-anchor="end">45</text>
<text x="195" y="480.8" text-anchor="end">50</text>
<text x="195" y="277.0" text-anchor="end">55</text>
<text x="195" y="73.2" text-anchor="end">60</text>
<text x="377.5" y="1665" text-anchor="middle">-8</text>
<text x="674.1" y="1665" text-anchor="middle">-7</text>
<text x="970.7" y="1665" text-anchor="middle">-6</text>
<text x="1267.3" y="1665" text-anchor="middle">-5</text>
<text x="1563.9" y="1665" text-anchor="middle">-4</text>
<text x="1860.5" y="1665" text-anchor="middle">-3</text>
<text x="2157.1" y="1665" text-anchor="middle">-2</text>
<text x="767.0" y="227.5">1-8</text>
<text x="419.0" y="446.0">12</text>
<text x="435.5" y="622.5">13</text>
<text x="1620.0" y="629.0">11</text>
<text x="457.0" y="939.0">14</text>
<text x="436.5" y="1309.5">15</text>
<text x="827.5" y="1434.0">16</text>
<text x="2119.0" y="1062.5">10</text>
<text x="2137.0" y="1148.5">9</text>
</g>
<g id="arrows" fill="#000" stroke="none">
<polygon points="2065,1070.2 2098.5,1047 2108.1,1068.3"/>
<path d="M2102 1057.5L2119.5 1050.8" stroke="#000" stroke-width="3.6" fill="none"/>
<polygon points="2062.4,1116.6 2103,1115.3 2096.6,1136.6"/>
<path d="M2099 1125.4L2122 1128.8" stroke="#000" stroke-width="3.6" fill="none"/>
</g>
<g id="titles" font-size="74" fill="#000">
<text x="1189" y="1790" font-size="75">log<tspan font-style="italic">C</tspan></text>
<text transform="translate(68.5,1147.5) rotate(-90)" x="0" y="0" font-size="76">Contact angle,</text>
<text transform="translate(68.5,634) rotate(-90) scale(1.22,1)" x="0" y="0" font-style="italic" font-family="'Liberation Serif','DejaVu Serif',serif" font-size="71">θ</text>
</g>
</svg>
</body></html>
